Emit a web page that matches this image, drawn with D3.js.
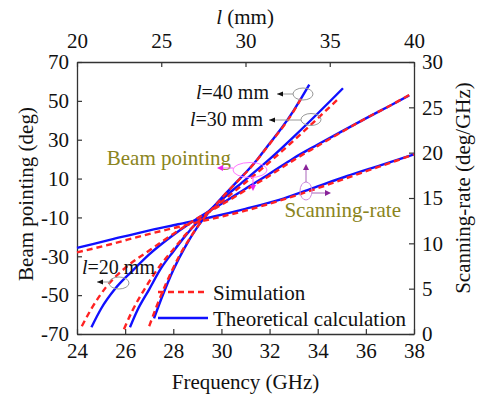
<!DOCTYPE html>
<html>
<head>
<meta charset="utf-8">
<script src="https://cdn.jsdelivr.net/npm/d3@7"></script>
<style>
  body { margin: 0; background: #fff; }
  text { font-family: "Liberation Serif", "Times New Roman", serif; }
</style>
</head>
<body>
<div id="chart"></div>
<script>
// Width and height of the SVG
const width = 477;
const height = 396;

// ticks
const freqTicks = [24, 26, 28, 30, 32, 34, 36, 38];
const lenTicks = [20, 25, 30, 35, 40];
const degTicks = [-70, -50, -30, -10, 10, 30, 50, 70];
const rateTicks = [0, 5, 10, 15, 20, 25, 30];

// beam pointing, theoretical calculation (GHz, deg)
const f20Theory = [24.6, 25.0, 25.6, 26.3, 27.0, 28.0, 29.0, 30.0, 31.0, 32.0, 33.0, 34.0, 35.0, 36.0, 37.0, 37.8];
const deg20Theory = [-66.5, -57, -46.5, -37.5, -29, -19, -10.5, -3, 4.8, 12.5, 20.5, 27.5, 34.3, 41, 47.5, 52.8];
const f30Theory = [26.2, 26.5, 27.0, 27.5, 28.0, 28.5, 29.0, 29.5, 30.0, 31.0, 32.0, 33.0, 34.0, 35.05];
const deg30Theory = [-66.5, -58, -47, -36, -27.5, -19.5, -12.5, -6.5, -1, 9.5, 20, 31.5, 43.5, 56.5];
const f40Theory = [27.2, 27.5, 28.0, 28.5, 29.0, 29.5, 30.0, 30.5, 31.0, 31.5, 32.0, 32.5, 33.0, 33.65];
const deg40Theory = [-62, -52, -37, -25, -15, -7, 0, 6.5, 13, 20, 28, 36, 45, 58.3];

// beam pointing, simulation
const f20Sim = [24.2, 24.6, 25.2, 26.0, 27.0, 28.0, 29.0, 30.0, 31.0, 32.0, 33.0, 34.0, 35.0, 36.0, 37.0, 37.8];
const deg20Sim = [-66, -57, -46, -36, -27, -18.5, -10.5, -3.5, 4, 11.5, 19.5, 26.8, 34, 41, 47.5, 53];
const f30Sim = [25.95, 26.3, 26.8, 27.5, 28.0, 28.5, 29.0, 29.5, 30.0, 31.0, 32.0, 33.0, 34.0, 34.85];
const deg30Sim = [-67.5, -58, -47, -34, -26.5, -19, -12.5, -7, -2, 8, 18.5, 29.5, 41, 51];
const f40Sim = [27.0, 27.3, 27.7, 28.2, 28.7, 29.2, 29.7, 30.2, 30.7, 31.2, 31.7, 32.2, 32.7, 33.35];
const deg40Sim = [-66, -56, -44, -31, -20.5, -11.5, -4.5, 2.5, 9, 15.5, 23, 31, 39, 52];

// scanning-rate vs l (mm, deg/GHz)
const lenMM = [20, 22, 24, 26, 28, 30, 32, 34, 36, 38, 40];
const rateTheory = [9.5, 10.4, 11.3, 12.1, 12.9, 13.8, 14.8, 16.1, 17.4, 18.6, 19.8];
const rateSim = [9.0, 9.9, 10.9, 11.8, 12.7, 13.6, 14.7, 15.9, 17.2, 18.5, 19.8];

const margin = { left: 77, right: 414, top: 62, bottom: 334 };

const svg = d3.select("#chart")
    .append("svg")
    .attr("width", width)
    .attr("height", height);

const x = d3.scaleLinear().domain([24, 38]).range([margin.left, margin.right]);
const xTop = d3.scaleLinear().domain([20, 40]).range([margin.left, margin.right]);
const y = d3.scaleLinear().domain([-70, 70]).range([margin.bottom, margin.top]);
const yR = d3.scaleLinear().domain([0, 30]).range([margin.bottom, margin.top]);

const fmt = d => String(d);

function styleAxis(g) {
    g.selectAll("path.domain").attr("stroke", "#333").attr("stroke-width", 1.3);
    g.selectAll(".tick line").attr("stroke", "#333").attr("stroke-width", 1.2);
    g.selectAll(".tick text").attr("fill", "#111")
        .style("font-family", "'Liberation Serif', serif").style("font-size", "21px");
}

svg.append("g")
    .attr("transform", `translate(0,${margin.bottom})`)
    .call(d3.axisBottom(x).tickValues(freqTicks).tickFormat(fmt).tickSizeInner(-5).tickSizeOuter(0).tickPadding(9))
    .call(styleAxis);

svg.append("g")
    .attr("transform", `translate(0,${margin.top})`)
    .call(d3.axisTop(xTop).tickValues(lenTicks).tickFormat(fmt).tickSizeInner(-5).tickSizeOuter(0).tickPadding(14))
    .call(styleAxis);

svg.append("g")
    .attr("transform", `translate(${margin.left},0)`)
    .call(d3.axisLeft(y).tickValues(degTicks).tickFormat(fmt).tickSizeInner(-5).tickSizeOuter(0).tickPadding(8))
    .call(styleAxis);

svg.append("g")
    .attr("transform", `translate(${margin.right},0)`)
    .call(d3.axisRight(yR).tickValues(rateTicks).tickFormat(fmt).tickSizeInner(-5).tickSizeOuter(0).tickPadding(8))
    .call(styleAxis);

// axis titles
svg.append("text")
    .attr("x", (margin.left + margin.right) / 2).attr("y", 389)
    .attr("text-anchor", "middle").style("font-size", "21px").attr("fill", "#111")
    .text("Frequency (GHz)");

const topTitle = svg.append("text")
    .attr("x", 245).attr("y", 24)
    .attr("text-anchor", "middle").style("font-size", "21px").attr("fill", "#111");
topTitle.append("tspan").style("font-style", "italic").text("l");
topTitle.append("tspan").text(" (mm)");

svg.append("text")
    .attr("transform", "translate(33,194) rotate(-90)")
    .attr("text-anchor", "middle").style("font-size", "21px").attr("fill", "#111")
    .text("Beam pointing (deg)");

svg.append("text")
    .attr("transform", "translate(470,188) rotate(-90)")
    .attr("text-anchor", "middle").style("font-size", "21px").attr("fill", "#111")
    .text("Scanning-rate (deg/GHz)");

// lines
const blue = "#1010ff";
const red = "#ff2222";

const beamLine = d3.line()
    .x(d => x(d[0]))
    .y(d => y(d[1]))
    .curve(d3.curveMonotoneX);

const rateLine = d3.line()
    .x(d => xTop(d[0]))
    .y(d => yR(d[1]))
    .curve(d3.curveMonotoneX);

const theorySets = [
    d3.zip(f20Theory, deg20Theory),
    d3.zip(f30Theory, deg30Theory),
    d3.zip(f40Theory, deg40Theory)
];
const simSets = [
    d3.zip(f20Sim, deg20Sim),
    d3.zip(f30Sim, deg30Sim),
    d3.zip(f40Sim, deg40Sim)
];

theorySets.forEach(s => {
    svg.append("path").datum(s)
        .attr("d", beamLine)
        .attr("fill", "none").attr("stroke", blue).attr("stroke-width", 2.4);
});
svg.append("path").datum(d3.zip(lenMM, rateTheory))
    .attr("d", rateLine)
    .attr("fill", "none").attr("stroke", blue).attr("stroke-width", 2.4);

simSets.forEach(s => {
    svg.append("path").datum(s)
        .attr("d", beamLine)
        .attr("fill", "none").attr("stroke", red).attr("stroke-width", 2.4)
        .attr("stroke-dasharray", "6,4");
});
svg.append("path").datum(d3.zip(lenMM, rateSim))
    .attr("d", rateLine)
    .attr("fill", "none").attr("stroke", red).attr("stroke-width", 2.4)
    .attr("stroke-dasharray", "6,4");

// legend
svg.append("line").attr("x1", 158).attr("x2", 208).attr("y1", 292).attr("y2", 292)
    .attr("stroke", red).attr("stroke-width", 2.4).attr("stroke-dasharray", "6,4");
svg.append("text").attr("x", 213).attr("y", 300)
    .style("font-size", "21px").attr("fill", "#111").text("Simulation");
svg.append("line").attr("x1", 158).attr("x2", 208).attr("y1", 318).attr("y2", 318)
    .attr("stroke", blue).attr("stroke-width", 2.4);
svg.append("text").attr("x", 213).attr("y", 326)
    .style("font-size", "21px").attr("fill", "#111").text("Theoretical calculation");

// l annotations
function lLabel(tx, ty, value, ex, ey, arrowX, arrowY, lineFromX) {
    const t = svg.append("text").attr("x", tx).attr("y", ty)
        .style("font-size", "20px").attr("fill", "#111");
    t.append("tspan").style("font-style", "italic").text("l");
    t.append("tspan").text("=" + value + " mm");
    svg.append("ellipse").attr("cx", ex).attr("cy", ey).attr("rx", 10).attr("ry", 6)
        .attr("fill", "none").attr("stroke", "#999").attr("stroke-width", 1);
    svg.append("line").attr("x1", lineFromX).attr("y1", arrowY).attr("x2", arrowX).attr("y2", arrowY)
        .attr("stroke", "#999").attr("stroke-width", 1);
    svg.append("path")
        .attr("d", `M${arrowX},${arrowY} l6,-2.5 l0,5 Z`)
        .attr("fill", "#111");
}
lLabel(196, 99, 40, 303, 94, 277, 94, 293);
lLabel(190, 126, 30, 311, 119.5, 269, 120, 301);
lLabel(82, 274, 20, 119, 283, 97, 282, 109);

// olive labels
const olive = "#8a8420";
svg.append("text").attr("x", 231).attr("y", 165).attr("text-anchor", "end")
    .style("font-size", "21px").attr("fill", olive).text("Beam pointing");
svg.append("text").attr("x", 401).attr("y", 217).attr("text-anchor", "end")
    .style("font-size", "21px").attr("fill", olive).text("Scanning-rate");

// beam pointing marker
svg.append("ellipse").attr("cx", 250).attr("cy", 170).attr("rx", 17).attr("ry", 7.5)
    .attr("fill", "none").attr("stroke", "#ff77ff").attr("stroke-width", 1);
svg.append("line").attr("x1", 233).attr("y1", 168).attr("x2", 221).attr("y2", 168)
    .attr("stroke", "#ff55ff").attr("stroke-width", 1);
svg.append("path").attr("d", "M217,168 l6,-3 l0,6 Z").attr("fill", "#ee22ee");
svg.append("line").attr("x1", 253).attr("y1", 177).attr("x2", 253).attr("y2", 187)
    .attr("stroke", "#ff55ff").attr("stroke-width", 1);
svg.append("path").attr("d", "M253,191 l-3,-6 l6,0 Z").attr("fill", "#ee22ee");

// scanning-rate marker
svg.append("ellipse").attr("cx", 306).attr("cy", 191).attr("rx", 6).attr("ry", 9)
    .attr("fill", "none").attr("stroke", "#cc88dd").attr("stroke-width", 1);
svg.append("line").attr("x1", 306).attr("y1", 182).attr("x2", 306).attr("y2", 169)
    .attr("stroke", "#aa66bb").attr("stroke-width", 1);
svg.append("path").attr("d", "M306,164 l-3,6 l6,0 Z").attr("fill", "#882299");
svg.append("line").attr("x1", 312).attr("y1", 193).attr("x2", 326).attr("y2", 193)
    .attr("stroke", "#aa66bb").attr("stroke-width", 1);
svg.append("path").attr("d", "M331,193 l-6,-3 l0,6 Z").attr("fill", "#882299");
</script>
</body>
</html>
